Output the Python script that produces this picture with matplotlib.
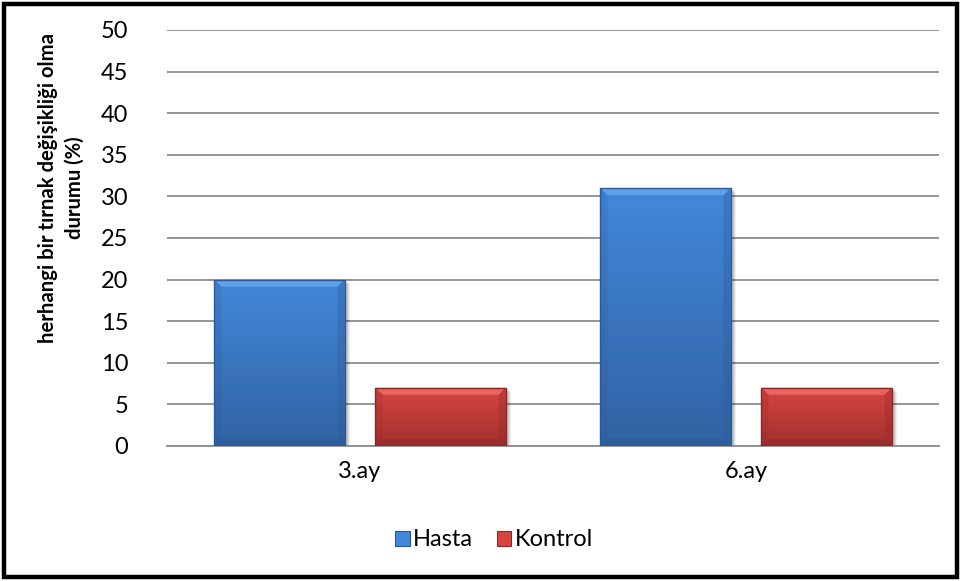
import matplotlib.pyplot as plt
import numpy as np
from matplotlib.patches import Polygon, Rectangle
from matplotlib.colors import LinearSegmentedColormap

plt.rcParams['font.family'] = ['Lato', 'DejaVu Sans']

categories = ['3.ay', '6.ay']
hasta = [20, 31]
kontrol = [7, 7]
y_ticks = [0, 5, 10, 15, 20, 25, 30, 35, 40, 45, 50]
series_names = ['Hasta', 'Kontrol']

# colour sets: body top, body bottom, bevel light, edge
blue = ('#4288DA', '#3262A3', '#66A9EF', '#2C5894')
red = ('#D64542', '#A3312F', '#F26C69', '#8A2826')

fig = plt.figure(figsize=(9.61, 5.81), dpi=100)
W, H = 961, 581
ax = fig.add_axes([167 / W, 1 - 446 / H, (939 - 167) / W, (446 - 30) / H])

x = np.arange(len(categories))
width = 0.337
shift = 0.2086

b1 = ax.bar(x - shift, hasta, width, color=blue[0], label=series_names[0], zorder=3)
b2 = ax.bar(x + shift, kontrol, width, color=red[0], label=series_names[1], zorder=3)

ax.set_xlim(-0.5, len(categories) - 0.5)
ax.set_ylim(0, 50)

# pixel size of one data unit, used for the bevel and shadow
px_x = ax.bbox.width / 2.0
px_y = ax.bbox.height / 50.0


def style_bar(bar, cols):
    x0, y0 = bar.get_x(), bar.get_y()
    w, h = bar.get_width(), bar.get_height()
    # soft shadow below/right of the bar
    for k, a in [(4, 0.06), (3, 0.08), (2, 0.10)]:
        ax.add_patch(Rectangle((x0 + 1 / px_x, y0 - k / px_y), w + k / px_x, h,
                               color='#000000', alpha=a, lw=0, zorder=2))
    cmap = LinearSegmentedColormap.from_list('g', [cols[1], cols[0]])
    grad = np.linspace(0, 1, 256).reshape(-1, 1)
    im = ax.imshow(grad, cmap=cmap, origin='lower', aspect='auto',
                   extent=[x0, x0 + w, y0, y0 + h], zorder=3.1)
    im.set_clip_path(bar)
    bx, by = 7 / px_x, 7 / px_y
    top = Polygon([(x0, y0 + h), (x0 + w, y0 + h), (x0 + w - bx, y0 + h - by),
                   (x0 + bx, y0 + h - by)], closed=True, color=cols[2], lw=0,
                  alpha=0.8, zorder=3.2)
    left = Polygon([(x0, y0), (x0, y0 + h), (x0 + bx, y0 + h - by), (x0 + bx, y0 + by)],
                   closed=True, color=cols[3], lw=0, alpha=0.2, zorder=3.2)
    right = Polygon([(x0 + w, y0), (x0 + w, y0 + h), (x0 + w - bx, y0 + h - by),
                     (x0 + w - bx, y0 + by)], closed=True, color=cols[3], lw=0,
                    alpha=0.3, zorder=3.2)
    bottom = Polygon([(x0, y0), (x0 + w, y0), (x0 + w - bx, y0 + by), (x0 + bx, y0 + by)],
                     closed=True, color=cols[3], lw=0, alpha=0.45, zorder=3.2)
    for p in (top, left, right, bottom):
        ax.add_patch(p)
    ax.add_patch(Rectangle((x0, y0), w, h, fill=False, edgecolor=cols[3], lw=1.0, zorder=3.3))


for bar in b1:
    style_bar(bar, blue)
for bar in b2:
    style_bar(bar, red)

ax.set_yticks(y_ticks)
ax.set_xticks(x)
ax.set_xticklabels(categories)
ax.tick_params(axis='both', length=0, labelsize=17, colors='black')
ax.tick_params(axis='y', pad=28)
ax.tick_params(axis='x', pad=11)
ax.yaxis.grid(True, color='#8C8C8C', lw=1.3, zorder=1)
ax.set_axisbelow(True)
for s in ['top', 'right', 'left']:
    ax.spines[s].set_visible(False)
ax.spines['bottom'].set_color('#8C8C8C')
ax.spines['bottom'].set_linewidth(1.3)

fig.text(61 / W, 1 - 188 / H, 'herhangi bir tırnak değişikliği olma\ndurumu (%)',
         rotation=90, ha='center', va='center', fontsize=14.6, fontweight='bold',
         multialignment='center', linespacing=1.4)

leg = fig.legend(handles=[b1, b2], labels=series_names, loc='center',
                 bbox_to_anchor=(494 / W, 1 - 540 / H), ncol=2, frameon=False,
                 fontsize=17, handlelength=0.62, handleheight=0.62,
                 handletextpad=0.15, columnspacing=1.0)
for h, cols in zip(leg.legend_handles, [blue, red]):
    h.set_edgecolor(cols[3])
    h.set_linewidth(0.8)

# black frame round the whole chart
fig.patches.append(Rectangle((4 / W, 4 / H), 1 - 8 / W, 1 - 8 / H, transform=fig.transFigure,
                             fill=False, edgecolor='black', lw=3.2))

fig.savefig('out.png', dpi=100)
